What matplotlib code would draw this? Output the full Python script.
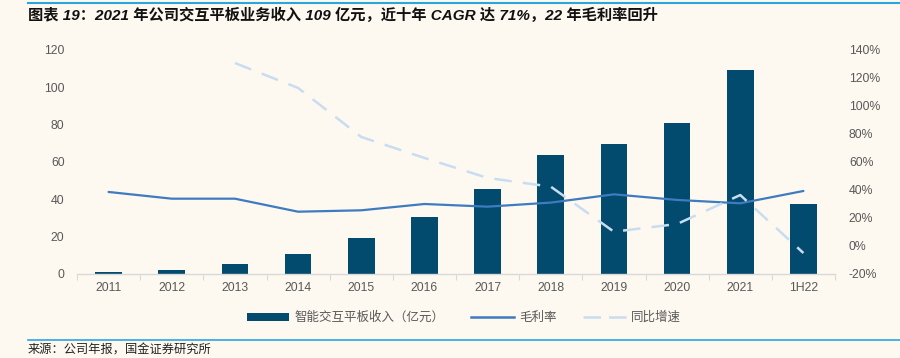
import matplotlib
matplotlib.use("Agg")
import matplotlib.pyplot as plt
from matplotlib.lines import Line2D
from matplotlib.patches import Patch
import numpy as np

plt.rcParams['font.family'] = ['Liberation Sans', 'Noto Sans CJK SC', 'DejaVu Sans']

categories = ['2011', '2012', '2013', '2014', '2015', '2016', '2017', '2018', '2019', '2020', '2021', '1H22']
revenue = [1.0, 2.3, 5.5, 10.7, 19.1, 30.7, 45.7, 63.7, 69.6, 80.7, 109.5, 37.3]
gross_margin = [38.6, 33.8, 33.8, 24.5, 25.5, 30.0, 28.1, 31.0, 36.9, 32.9, 30.5, 39.3]
yoy_growth = [None, None, 130.7, 112.9, 77.9, 62.9, 48.6, 42.4, 10.2, 15.7, 36.4, -5.0]

left_ticks = [0, 20, 40, 60, 80, 100, 120]
right_ticks = [-20, 0, 20, 40, 60, 80, 100, 120, 140]

title = "图表 19：2021 年公司交互平板业务收入 109 亿元，近十年 CAGR 达 71%，22 年毛利率回升"
source = "来源：公司年报，国金证券研究所"
legend_labels = ["智能交互平板收入（亿元）", "毛利率", "同比增速"]

bg = '#FDF9F0'
bar_color = '#024A6E'
gm_color = '#3E7BC0'
yoy_color = '#C9DDF0'
tick_color = '#595959'

W, H = 900, 358
fig = plt.figure(figsize=(9, 3.58), dpi=100, facecolor=bg)
ax = fig.add_axes([77 / W, (H - 274) / H, (835 - 77) / W, (274 - 50) / H])
ax.set_facecolor(bg)
ax2 = ax.twinx()
ax2.patch.set_visible(False)

x = np.arange(len(categories))
ax.bar(x, revenue, width=0.42, color=bar_color, zorder=2)
ax.set_xlim(-0.5, len(categories) - 0.5)
ax.set_ylim(0, 120)
ax.set_yticks(left_ticks)
ax.set_xticks(x)
ax.set_xticklabels(categories)
ax.set_xticks(np.arange(-0.5, len(categories), 1.0), minor=True)

gm = np.array(gross_margin, dtype=float)
yy = np.array([np.nan if v is None else v for v in yoy_growth], dtype=float)
ax2.plot(x, gm, color=gm_color, lw=1.6, solid_capstyle='round', zorder=3)
ax2.plot(x, yy, color=yoy_color, lw=1.8, dashes=(7, 4.5), zorder=4)
ax2.set_ylim(-20, 140)
ax2.set_yticks(right_ticks)
ax2.set_yticklabels([f"{v}%" for v in right_ticks])

for a in (ax, ax2):
    for s in a.spines.values():
        s.set_visible(False)
ax.spines['bottom'].set_visible(True)
ax.spines['bottom'].set_color('#D9D9D9')
ax.spines['bottom'].set_linewidth(1.0)

ax.tick_params(axis='x', which='major', length=0, pad=6, labelsize=8.8, colors=tick_color)
ax.tick_params(axis='x', which='minor', length=4, color='#D9D9D9', width=0.8)
ax.tick_params(axis='y', length=0, pad=9, labelsize=8.8, colors=tick_color)
ax2.tick_params(axis='y', length=0, pad=10, labelsize=8.8, colors=tick_color)

handles = [
    Patch(facecolor=bar_color, edgecolor='none'),
    Line2D([0], [0], color=gm_color, lw=1.8),
    Line2D([0], [0], color=yoy_color, lw=1.8, dashes=(7, 3.2)),
]
leg = fig.legend(handles, legend_labels, loc='center', bbox_to_anchor=(464 / W, 1 - 318 / H),
                 ncol=3, frameon=False, fontsize=9, handlelength=3.4, handleheight=0.6,
                 columnspacing=2.1, handletextpad=0.45)
for t in leg.get_texts():
    t.set_color(tick_color)

fig.add_artist(Line2D([28 / W, 1.0], [1 - 3 / H, 1 - 3 / H], color='#29A6E0', lw=1.5))
fig.add_artist(Line2D([28 / W, 1.0], [1 - 340 / H, 1 - 340 / H], color='#29A6E0', lw=1.2))

fig.text(28 / W, 1 - 15 / H, title, fontsize=11, fontweight='bold', style='italic',
         va='center', ha='left', color='#111111')
fig.text(28 / W, 1 - 350 / H, source, fontsize=8.8, va='center', ha='left', color='#222222',
         family=['Noto Sans CJK SC', 'DejaVu Sans'])

fig.savefig('out.png', dpi=100, facecolor=bg)
